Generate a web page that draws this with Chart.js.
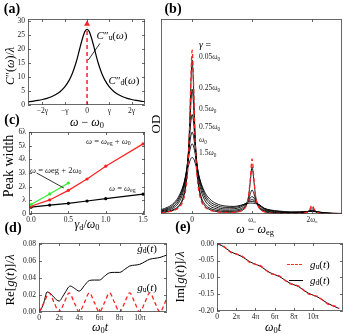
<!DOCTYPE html>
<html>
<head>
<meta charset="utf-8">
<script src="https://cdn.jsdelivr.net/npm/chart.js@4.4.0/dist/chart.umd.min.js"></script>
<style>
  body { margin: 0; background: #fff; }
  #fig { position: relative; width: 343px; height: 334px; overflow: hidden; font-family: "Liberation Serif", serif; color: #000; }
  #fig canvas { position: absolute; }
  .t { position: absolute; white-space: nowrap; transform: translate(-50%, -50%); line-height: 1; }
  .l { position: absolute; white-space: nowrap; transform: translate(0, -50%); line-height: 1; }
  .r { transform: translate(-50%, -50%) rotate(-90deg); }
  .p { font-weight: bold; font-size: 14px; }
  sub { font-size: 70%; vertical-align: -0.25em; line-height: 0; }
  .b { font-size: 7.5px; color: #222; }
  .c { font-size: 8.5px; color: #222; }
</style>
</head>
<body>
<div id="fig">
  <canvas id="chartA" width="150" height="118" style="left:0;top:0"></canvas>
  <canvas id="chartB" width="193" height="224" style="left:150px;top:0"></canvas>
  <canvas id="chartC" width="150" height="105" style="left:0;top:120px"></canvas>
  <canvas id="chartD" width="172" height="90" style="left:0;top:232px"></canvas>
  <canvas id="chartE" width="171" height="90" style="left:172px;top:232px"></canvas>

  <div class="t p" style="left:12px;top:9px">(a)</div>
  <div class="t p" style="left:173px;top:9px">(b)</div>
  <div class="t p" style="left:12px;top:120px">(c)</div>
  <div class="t p" style="left:13px;top:228px">(d)</div>
  <div class="t p" style="left:183px;top:227px">(e)</div>

  <!-- (a) -->
  <div class="t r" style="left:10px;top:66px;font-size:12px"><i>C</i>″(<i>ω</i>)/<i>λ</i></div>
  <div class="t" style="left:87px;top:122px;font-size:12px"><i>ω</i> − <i>ω</i><sub>0</sub></div>
  <div class="t" style="left:112px;top:35px;font-size:11px"><i>C</i>″<sub>u</sub>(<i>ω</i>)</div>
  <div class="t" style="left:124px;top:80px;font-size:11px"><i>C</i>″<sub>d</sub>(<i>ω</i>)</div>

  <!-- (b) -->
  <div class="t r" style="left:155px;top:124px;font-size:13px">OD</div>
  <div class="t" style="left:205px;top:45px;font-size:10px"><i>γ</i> =</div>
  <div class="l b" style="left:199px;top:57px">0.05<i>ω</i><sub>0</sub></div>
  <div class="l b" style="left:199px;top:88px">0.25<i>ω</i><sub>0</sub></div>
  <div class="l b" style="left:199px;top:109px">0.5<i>ω</i><sub>0</sub></div>
  <div class="l b" style="left:199px;top:127px">0.75<i>ω</i><sub>0</sub></div>
  <div class="l b" style="left:199px;top:140px"><i>ω</i><sub>0</sub></div>
  <div class="l b" style="left:199px;top:153px">1.5<i>ω</i><sub>0</sub></div>
  <div class="t" style="left:255px;top:229px;font-size:12px"><i>ω</i> − <i>ω</i><sub>eg</sub></div>

  <!-- (c) -->
  <div class="t r" style="left:9px;top:166px;font-size:14px">Peak width</div>
  <div class="t" style="left:87px;top:224px;font-size:12px"><i>γ</i><sub>d</sub>/<i>ω</i><sub>0</sub></div>
  <div class="l c" style="left:86px;top:141px"><i>ω</i> = <i>ω</i><sub>eg</sub> + <i>ω</i><sub>0</sub></div>
  <div class="l c" style="left:30px;top:170px"><i>ω</i> = <i>ω</i>eg + 2<i>ω</i><sub>0</sub></div>
  <div class="l c" style="left:109px;top:188px"><i>ω</i> = <i>ω</i><sub>eg</sub></div>

  <!-- (d) -->
  <div class="t r" style="left:9px;top:280px;font-size:13px">Re[<i>g</i>(<i>t</i>)]/<i>λ</i></div>
  <div class="t" style="left:100px;top:327px;font-size:12px"><i>ω</i><sub>0</sub><i>t</i></div>
  <div class="t" style="left:147px;top:248px;font-size:11px"><i>g</i><sub>d</sub>(<i>t</i>)</div>
  <div class="t" style="left:147px;top:287px;font-size:11px"><i>g</i><sub>u</sub>(<i>t</i>)</div>

  <!-- (e) -->
  <div class="t r" style="left:179px;top:277px;font-size:13px">Im[<i>g</i>(<i>t</i>)]/<i>λ</i></div>
  <div class="t" style="left:273px;top:327px;font-size:12px"><i>ω</i><sub>0</sub><i>t</i></div>
  <div style="position:absolute;left:287px;top:264px;width:15px;border-top:1.3px dashed #ff2a2a"></div>
  <div style="position:absolute;left:289px;top:280px;width:14px;border-top:1px solid #000"></div>
  <div class="l" style="left:310px;top:264px;font-size:11px"><i>g</i><sub>u</sub>(<i>t</i>)</div>
  <div class="l" style="left:310px;top:280px;font-size:11px"><i>g</i><sub>d</sub>(<i>t</i>)</div>
</div>

<script>
const red = "#ff2222";
const green = "#33ee33";

// (a) spectral density, x in units of gamma
const aX = [-2.65, -2.4, -2.2, -2.0, -1.8, -1.6, -1.4, -1.2, -1.0, -0.8, -0.7, -0.6, -0.5, -0.4, -0.3, -0.2, -0.1, 0,
  0.1, 0.2, 0.3, 0.4, 0.5, 0.6, 0.7, 0.8, 1.0, 1.2, 1.4, 1.6, 1.8, 2.0, 2.2, 2.4, 2.6];
const aC = [1.15, 1.39, 1.64, 1.96, 2.38, 2.95, 3.72, 4.83, 6.44, 8.87, 10.5, 12.6, 15.0, 17.9, 21.0, 23.9, 26.2, 27.0,
  26.2, 23.9, 21.0, 17.9, 15.0, 12.6, 10.5, 8.87, 6.44, 4.83, 3.72, 2.95, 2.38, 1.96, 1.64, 1.39, 1.18];
const aDeltaX = [0, 0];
const aDeltaY = [0, 27.6];
const aArrowY = 28.9;
const aTicksX = [-2, -1, 0, 1, 2];
const aLabelsX = ["−2γ", "−γ", "0", "γ", "2γ"];
const aTicksY = [0, 5, 10, 15, 20, 25, 30];

// (b) OD spectra, x = (w - weg)/w0
const bX = [-0.52, -0.4, -0.3, -0.22, -0.15, -0.1, -0.07, -0.04, -0.02, 0, 0.02, 0.04, 0.07, 0.1, 0.15, 0.22, 0.3, 0.4,
  0.55, 0.7, 0.8, 0.88, 0.94, 0.97, 1.0, 1.03, 1.06, 1.12, 1.2, 1.3, 1.45, 1.65, 1.8, 1.9, 1.96, 2.0, 2.04, 2.1, 2.2, 2.35, 2.5];
const odRed = [0.006, 0.011, 0.019, 0.034, 0.069, 0.141, 0.246, 0.469, 0.701, 0.84, 0.701, 0.469, 0.246, 0.141, 0.069, 0.034, 0.019, 0.012,
  0.008, 0.008, 0.014, 0.030, 0.088, 0.181, 0.282, 0.181, 0.088, 0.030, 0.012, 0.006, 0.003, 0.002, 0.003, 0.007, 0.023, 0.046, 0.023, 0.007, 0.002, 0.001, 0.001];
const od005 = [0.007, 0.012, 0.021, 0.039, 0.079, 0.158, 0.267, 0.482, 0.681, 0.79, 0.681, 0.482, 0.267, 0.158, 0.079, 0.039, 0.022, 0.013,
  0.009, 0.009, 0.015, 0.032, 0.089, 0.168, 0.242, 0.168, 0.089, 0.032, 0.013, 0.007, 0.003, 0.002, 0.003, 0.006, 0.019, 0.033, 0.019, 0.006, 0.002, 0.001, 0.001];
const od025 = [0.008, 0.014, 0.025, 0.044, 0.088, 0.169, 0.271, 0.443, 0.576, 0.64, 0.576, 0.443, 0.271, 0.169, 0.089, 0.048, 0.029, 0.019,
  0.013, 0.014, 0.020, 0.036, 0.073, 0.104, 0.123, 0.104, 0.072, 0.033, 0.016, 0.008, 0.005, 0.003, 0.004, 0.008, 0.016, 0.021, 0.016, 0.008, 0.003, 0.001, 0.001];
const od05 = [0.012, 0.020, 0.034, 0.060, 0.113, 0.199, 0.289, 0.408, 0.48, 0.51, 0.48, 0.408, 0.289, 0.2, 0.119, 0.066, 0.040, 0.027,
  0.019, 0.020, 0.026, 0.042, 0.068, 0.083, 0.089, 0.082, 0.067, 0.037, 0.020, 0.012, 0.007, 0.005, 0.007, 0.011, 0.016, 0.017, 0.016, 0.010, 0.005, 0.002, 0.001];
const od075 = [0.015, 0.025, 0.042, 0.072, 0.129, 0.21, 0.282, 0.362, 0.404, 0.42, 0.404, 0.362, 0.283, 0.212, 0.138, 0.082, 0.052, 0.036,
  0.026, 0.027, 0.034, 0.048, 0.064, 0.071, 0.074, 0.070, 0.062, 0.044, 0.025, 0.016, 0.010, 0.007, 0.009, 0.011, 0.014, 0.014, 0.013, 0.010, 0.005, 0.003, 0.002];
const od1 = [0.018, 0.030, 0.050, 0.083, 0.14, 0.213, 0.269, 0.324, 0.35, 0.36, 0.35, 0.325, 0.27, 0.215, 0.152, 0.095, 0.063, 0.045,
  0.034, 0.034, 0.040, 0.052, 0.061, 0.064, 0.065, 0.063, 0.059, 0.048, 0.029, 0.019, 0.013, 0.009, 0.010, 0.012, 0.013, 0.013, 0.012, 0.010, 0.006, 0.003, 0.002];
const od15 = [0.022, 0.036, 0.058, 0.092, 0.145, 0.2, 0.238, 0.271, 0.285, 0.29, 0.285, 0.272, 0.24, 0.205, 0.157, 0.106, 0.075, 0.054,
  0.041, 0.039, 0.044, 0.051, 0.054, 0.056, 0.056, 0.055, 0.053, 0.047, 0.030, 0.021, 0.015, 0.011, 0.011, 0.012, 0.013, 0.013, 0.013, 0.011, 0.007, 0.004, 0.003];
const bTicksX = [0, 1, 2];
const bLabelsX = ["0", "ω₀", "2ω₀"];

// (c) peak widths vs gamma_d / w0 (units of lambda)
const cX = [0, 0.25, 0.5, 0.75, 1.0, 1.5];
const cPeak0 = [0.5, 0.65, 0.78, 0.95, 1.12, 1.45];
const cPeak1 = [0.57, 1.03, 1.73, 2.56, 3.5, 5.13];
const cX2 = [0, 0.25, 0.5];
const cPeak2 = [0.69, 1.47, 2.27];
const cTicksX = [0, 0.5, 1.0, 1.5];
const cLabelsX = ["0.0", "0.5", "1.0", "1.5"];
const cTicksY = [0, 1, 2, 3, 4, 5, 6];
const cLabelsY = ["0", "λ", "2λ", "3λ", "4λ", "5λ", "6λ"];

// (d) Re g(t), t in units of pi/w0
const dXd = [0, 0.25, 0.5, 0.8, 1.2, 1.5, 2.0, 2.5, 3.1, 3.5, 4.0, 4.5, 5.0, 5.5, 6.0, 6.5, 7.0, 7.5, 8.0, 8.5,
  9.0, 9.5, 10.0, 10.5, 11.0, 11.5, 12.0, 12.7];
const reGd = [0, 0.004, 0.012, 0.0235, 0.021, 0.017, 0.0129, 0.021, 0.0305, 0.028, 0.0245, 0.031, 0.037, 0.0375, 0.0375, 0.042,
  0.046, 0.0465, 0.0465, 0.050, 0.054, 0.055, 0.056, 0.059, 0.062, 0.063, 0.064, 0.067];
const dXu = [0, 0.5, 1, 1.5, 2, 2.5, 3, 3.5, 4, 4.5, 5, 5.5, 6, 6.5, 7, 7.5, 8, 8.5, 9, 9.5, 10, 10.5, 11, 11.5, 12, 12.5, 12.7];
const reGu = [0, 0.011, 0.0225, 0.011, 0, 0.011, 0.0225, 0.011, 0, 0.011, 0.0225, 0.011, 0, 0.011, 0.0225, 0.011,
  0, 0.011, 0.0225, 0.011, 0, 0.011, 0.0225, 0.011, 0, 0.011, 0.0175];
const tTicks = [0, 2, 4, 6, 8, 10];
const tLabels = ["0", "2π", "4π", "6π", "8π", "10π"];

// (e) Im g(t)
const imGu = [0, -0.004, -0.0153, -0.027, -0.0306, -0.035, -0.046, -0.057, -0.0612, -0.065, -0.0765, -0.088, -0.0918, -0.096,
  -0.107, -0.118, -0.122, -0.126, -0.138, -0.149, -0.153, -0.157, -0.168, -0.179, -0.184, -0.188, -0.193];
const imGd = [0, -0.006, -0.0153, -0.025, -0.031, -0.037, -0.046, -0.055, -0.061, -0.067, -0.0765, -0.086, -0.092, -0.098,
  -0.107, -0.116, -0.122, -0.128, -0.138, -0.147, -0.153, -0.159, -0.168, -0.177, -0.184, -0.19, -0.193];
const eTicksY = [0, -0.05, -0.1, -0.15, -0.2];

Chart.defaults.font.family = '"Liberation Serif", serif';
Chart.defaults.font.size = 7.5;
Chart.defaults.color = "#222";

const pts = (xs, ys) => xs.map((x, i) => ({ x: x, y: ys[i] }));

// frame, inward tick marks and leader lines
const framePlugin = {
  id: "frame",
  afterDatasetsDraw(chart, args, opts) {
    const ctx = chart.ctx;
    const a = chart.chartArea;
    const sx = chart.scales.x;
    const sy = chart.scales.y;
    ctx.save();
    ctx.strokeStyle = "#444";
    ctx.lineWidth = 0.8;
    ctx.strokeRect(a.left + 0.5, a.top + 0.5, a.right - a.left - 1, a.bottom - a.top - 1);
    ctx.beginPath();
    sx.ticks.forEach((t) => {
      const px = Math.round(sx.getPixelForValue(t.value)) + 0.5;
      ctx.moveTo(px, a.bottom); ctx.lineTo(px, a.bottom - 3);
      ctx.moveTo(px, a.top); ctx.lineTo(px, a.top + 3);
    });
    if (opts.yMarks) {
      sy.ticks.forEach((t) => {
        const py = Math.round(sy.getPixelForValue(t.value)) + 0.5;
        ctx.moveTo(a.left, py); ctx.lineTo(a.left + 3, py);
        ctx.moveTo(a.right, py); ctx.lineTo(a.right - 3, py);
      });
    }
    ctx.stroke();
    ctx.strokeStyle = "#000";
    ctx.lineWidth = 0.8;
    (opts.lines || []).forEach((l) => {
      ctx.beginPath();
      ctx.moveTo(sx.getPixelForValue(l[0]), sy.getPixelForValue(l[1]));
      ctx.lineTo(sx.getPixelForValue(l[2]), sy.getPixelForValue(l[3]));
      ctx.stroke();
    });
    ctx.restore();
  },
};

function makeChart(id, datasets, c) {
  return new Chart(document.getElementById(id), {
    type: "line",
    data: { datasets: datasets },
    options: {
      responsive: false,
      animation: false,
      layout: { padding: { top: c.padTop, right: c.padRight, left: 0, bottom: 0 } },
      elements: { point: { radius: 0 } },
      plugins: {
        legend: { display: false },
        tooltip: { enabled: false },
        frame: { yMarks: c.yMarks !== false, lines: c.lines || [] },
      },
      scales: {
        x: {
          type: "linear",
          min: c.xMin,
          max: c.xMax,
          grid: { display: false, drawTicks: false },
          border: { display: false },
          afterBuildTicks: (s) => { s.ticks = c.xTicks.map((v) => ({ value: v })); },
          afterFit: (s) => { s.height = c.xHeight; },
          ticks: { padding: 2, maxRotation: 0, autoSkip: false, callback: (v, i) => c.xLabels[i] },
        },
        y: {
          type: "linear",
          min: c.yMin,
          max: c.yMax,
          grid: { display: false, drawTicks: false },
          border: { display: false },
          afterBuildTicks: (s) => { s.ticks = c.yTicks.map((v) => ({ value: v })); },
          afterFit: (s) => { s.width = c.yWidth; },
          ticks: { display: c.yLabels !== null, padding: 3, autoSkip: false, callback: (v, i) => (c.yLabels ? c.yLabels[i] : "") },
        },
      },
    },
    plugins: [framePlugin],
  });
}

// (a)
makeChart("chartA", [
  { data: pts(aDeltaX, aDeltaY), borderColor: red, borderWidth: 1.5, borderDash: [4, 3] },
  { data: [{ x: 0, y: aArrowY }], showLine: false, pointStyle: "triangle", pointRadius: 3.5, pointBackgroundColor: red, pointBorderColor: red, pointBorderWidth: 0 },
  { data: pts(aX, aC), borderColor: "#000", borderWidth: 1.2, cubicInterpolationMode: "monotone" },
], {
  padTop: 19, padRight: 5, xHeight: 13, yWidth: 28,
  xMin: -2.65, xMax: 2.6, xTicks: aTicksX, xLabels: aLabelsX,
  yMin: 0, yMax: 30.7, yTicks: aTicksY, yLabels: aTicksY.map(String),
  lines: [[0.58, 22, 0.05, 16]],
});

// (b)
const bCurves = [od005, od025, od05, od075, od1, od15];
makeChart("chartB", [
  { data: pts(bX, odRed), borderColor: red, borderWidth: 1.3, borderDash: [4, 3], cubicInterpolationMode: "monotone" },
].concat(bCurves.map((ys) => ({ data: pts(bX, ys), borderColor: "#000", borderWidth: 0.9, cubicInterpolationMode: "monotone" }))), {
  padTop: 19, padRight: 1, xHeight: 10, yWidth: 11,
  xMin: -0.52, xMax: 2.5, xTicks: bTicksX, xLabels: bLabelsX,
  yMin: 0, yMax: 1, yTicks: [], yLabels: null, yMarks: false,
});

// (c)
makeChart("chartC", [
  { data: pts(cX2, cPeak2), borderColor: green, borderWidth: 1.2, pointRadius: 1.6, pointBackgroundColor: green, pointBorderWidth: 0, clip: false },
  { data: pts(cX, cPeak1), borderColor: red, borderWidth: 1.2, pointRadius: 1.6, pointBackgroundColor: red, pointBorderWidth: 0, clip: false },
  { data: pts(cX, cPeak0), borderColor: "#000", borderWidth: 1.2, pointRadius: 1.6, pointBackgroundColor: "#000", pointBorderWidth: 0, clip: false },
], {
  padTop: 12, padRight: 5, xHeight: 11, yWidth: 29,
  xMin: -0.027, xMax: 1.526, xTicks: cTicksX, xLabels: cLabelsX,
  yMin: 0, yMax: 6, yTicks: cTicksY, yLabels: cLabelsY,
  lines: [[0.075, 3.0, 0.44, 1.9]],
});

// (d)
makeChart("chartD", [
  { data: pts(dXu, reGu), borderColor: red, borderWidth: 1.3, borderDash: [4, 3], cubicInterpolationMode: "monotone" },
  { data: pts(dXd, reGd), borderColor: "#000", borderWidth: 1, cubicInterpolationMode: "monotone" },
], {
  padTop: 11, padRight: 5, xHeight: 10, yWidth: 39,
  xMin: 0, xMax: 12.7, xTicks: tTicks, xLabels: tLabels,
  yMin: 0, yMax: 0.081, yTicks: [0, 0.02, 0.04, 0.06, 0.08], yLabels: ["0.00", "0.02", "0.04", "0.06", "0.08"],
});

// (e)
makeChart("chartE", [
  { data: pts(dXu, imGu), borderColor: red, borderWidth: 1.3, borderDash: [4, 3], cubicInterpolationMode: "monotone" },
  { data: pts(dXu, imGd), borderColor: "#000", borderWidth: 1, cubicInterpolationMode: "monotone" },
], {
  padTop: 11, padRight: 0, xHeight: 11, yWidth: 45,
  xMin: 0, xMax: 13.1, xTicks: tTicks, xLabels: tLabels,
  yMin: -0.2, yMax: 0.002, yTicks: eTicksY, yLabels: ["0.00", "-0.05", "-0.10", "-0.15", "-0.20"],
});
</script>
</body>
</html>
